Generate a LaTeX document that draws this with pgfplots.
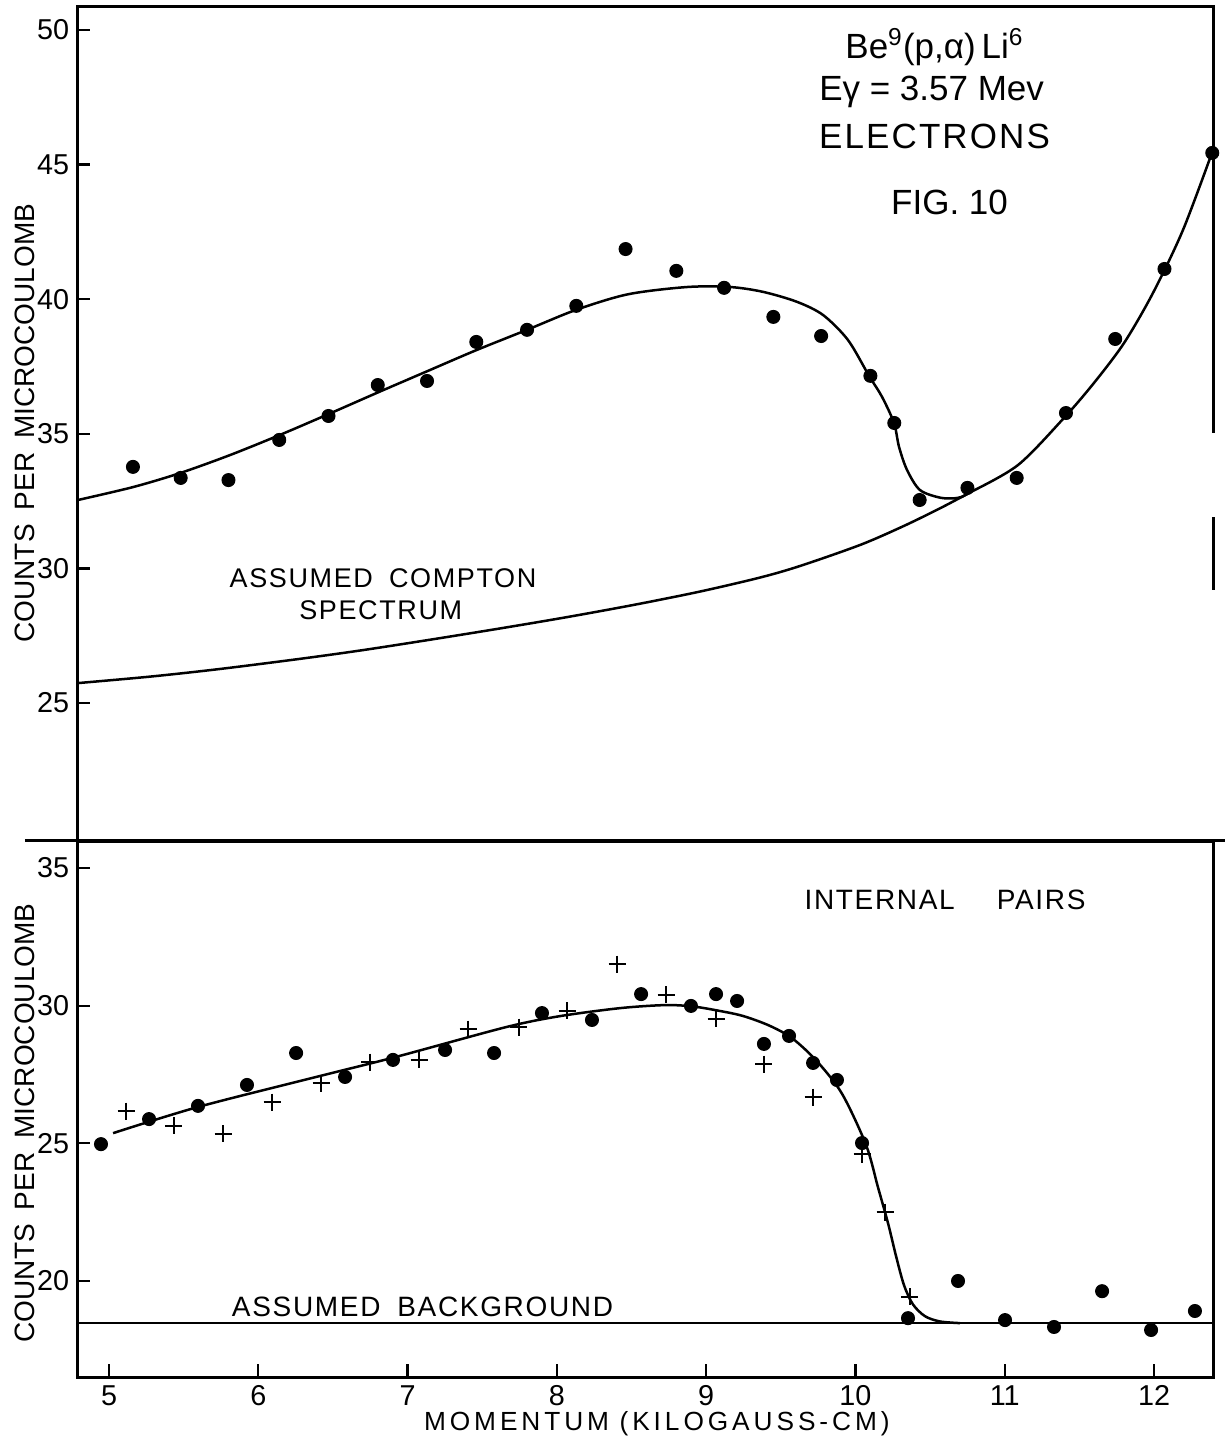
\documentclass[border=0pt]{standalone}
\usepackage{pgfplots}
\pgfplotsset{compat=1.18}
\usepackage{fontspec}
\setmainfont{Liberation Sans}
\newfontfamily\lettering[LetterSpace=6]{Liberation Sans}
\newfontfamily\widelettering[LetterSpace=15]{Liberation Sans}

\tikzset{
  ann/.style={font=\fontsize{11.2}{13}\lettering, inner sep=0pt},
  big/.style={font=\fontsize{14}{16}\selectfont, inner sep=0pt},
}

\begin{document}
\begin{tikzpicture}
% page: 1 px of the drawing = 0.4pt, origin at the lower left corner of the lower panel
\useasboundingbox (-31.2pt,-26pt) rectangle (458.8pt,550.8pt);
\pgfplotsset{
  panel/.style={
    scale only axis, width=454pt,
    xmin=4.792, xmax=12.395,
    tick align=inside, ytick pos=left,
    major tick length=5pt,
    every tick/.style={line width=0.9pt, black},
    axis line style={line width=1.2pt},
    tick label style={font=\fontsize{11.5}{13}\selectfont},
    /pgf/number format/assume math mode=true,
    clip=false,
  },
  dots/.style={only marks, mark=*, mark size=2.6pt, black},
  crosses/.style={only marks, mark=+, mark size=3.4pt, mark options={line width=0.9pt}, black},
  fit/.style={black, line width=1pt, smooth, tension=0.5, no marks},
}

% ---------------- lower panel: internal pairs ----------------
\begin{axis}[panel, at={(0,0)}, anchor=south west, height=214.4pt,
  ymin=16.513, ymax=35.98,
  xtick={5,...,12}, xtick pos=left,
  ytick={20,25,30,35},
  xlabel={\widelettering MOMENTUM\hspace{0.4em}(KILOGAUSS-CM)},
  xlabel style={at={(axis description cs:0.51,0)}, anchor=center, yshift=-18.8pt,
                font=\fontsize{10.5}{12}\selectfont},
  ylabel={COUNTS\hspace{0.5em}PER\hspace{0.5em}MICROCOULOMB},
  ylabel style={at={(axis description cs:-0.0467,0.474)}, anchor=center,
                font=\fontsize{11.2}{13}\selectfont},
]
% assumed background
\addplot[black, line width=1pt] coordinates {(4.792,18.47) (12.395,18.47)};
% fitted curve
\addplot[fit] coordinates {
 (5.027,25.37) (5.596,26.32) (6.387,27.41) (6.916,28.13) (7.659,29.22)
 (8.021,29.62) (8.423,29.91) (8.724,30.02) (8.912,29.97) (9.099,29.80)
 (9.250,29.62) (9.421,29.28) (9.575,28.82) (9.742,27.98) (9.910,26.80)
 (10.071,24.94) (10.151,23.40) (10.218,22.10) (10.272,20.90) (10.325,19.85)
 (10.385,19.15) (10.466,18.72) (10.566,18.53) (10.700,18.47)};
% first run (dots)
\addplot[dots] coordinates {
 (4.946,24.97) (5.268,25.88) (5.596,26.36) (5.924,27.12) (6.253,28.28)
 (6.581,27.41) (6.902,28.03) (7.251,28.39) (7.579,28.28) (7.900,29.73)
 (8.235,29.48) (8.564,30.42) (8.898,29.99) (9.066,30.42) (9.207,30.17)
 (9.387,28.61) (9.555,28.90) (9.716,27.92) (9.876,27.30) (10.044,25.01)
 (10.352,18.65) (10.687,20.00) (11.002,18.58) (11.330,18.33) (11.652,19.63)
 (11.980,18.22) (12.274,18.91)};
% second run (crosses)
\addplot[crosses] coordinates {
 (5.114,26.17) (5.435,25.63) (5.764,25.34) (6.092,26.50) (6.420,27.19)
 (6.748,27.95) (7.077,28.03) (7.405,29.15) (7.746,29.22) (8.068,29.81)
 (8.403,31.51) (8.731,30.39) (9.066,29.52) (9.387,27.88) (9.716,26.68)
 (10.044,24.61) (10.198,22.50) (10.365,19.42)};
\node[ann] at (axis cs:10.6,33.84) {INTERNAL\hspace{1.5em}PAIRS};
\node[ann] at (axis cs:7.10,19.05) {ASSUMED\hspace{0.6em}BACKGROUND};
\end{axis}

% ---------------- upper panel: electrons ----------------
\begin{axis}[panel, at={(0,214.4pt)}, anchor=south west, height=333.6pt,
  ymin=19.875, ymax=50.85,
  xtick=\empty,
  ytick={25,30,...,50},
  axis line style={draw=none},
  ylabel={COUNTS\hspace{0.5em}PER\hspace{0.5em}MICROCOULOMB},
  ylabel style={at={(axis description cs:-0.0467,0.501)}, anchor=center,
                font=\fontsize{11.2}{13}\selectfont},
]
% frame: left, top and the broken right edge
\draw[line width=1.2pt] (rel axis cs:0,0) -- (rel axis cs:0,1) -- (rel axis cs:1,1)
   -- (axis cs:12.395,35.03);
\draw[line width=1.2pt] (axis cs:12.395,31.9) -- (axis cs:12.395,29.2);
% assumed Compton spectrum
\addplot[fit] coordinates {
 (4.792,25.74) (5.275,25.98) (5.737,26.26) (6.279,26.64) (6.695,26.96)
 (7.150,27.35) (7.653,27.80) (8.088,28.21) (8.530,28.66) (8.959,29.14)
 (9.361,29.66) (9.629,30.09) (10.031,30.87) (10.318,31.56) (10.566,32.23)
 (10.761,32.80)};
% fitted curve
\addplot[fit] coordinates {
 (4.792,32.54) (5.161,33.02) (5.476,33.54) (5.811,34.21) (6.146,34.96)
 (6.474,35.74) (6.795,36.52) (7.130,37.32) (7.458,38.10) (7.800,38.86)
 (8.128,39.60) (8.476,40.18) (8.872,40.45) (9.160,40.45) (9.381,40.27)
 (9.608,39.90) (9.783,39.41) (9.950,38.48) (10.091,37.15) (10.178,36.37)
 (10.258,35.40) (10.292,34.51) (10.345,33.66) (10.432,32.91) (10.573,32.62)
 (10.687,32.62) (10.761,32.80) (11.089,33.84) (11.397,35.59) (11.598,36.89)
 (11.799,38.37) (11.993,40.23) (12.194,42.57) (12.395,45.54)};
\addplot[dots] coordinates {
 (5.16,33.77) (5.48,33.36) (5.80,33.28) (6.14,34.77) (6.47,35.66) (6.80,36.81)
 (7.13,36.96) (7.46,38.41) (7.80,38.86) (8.13,39.75) (8.46,41.86) (8.80,41.05)
 (9.12,40.42) (9.45,39.34) (9.77,38.63) (10.10,37.15) (10.26,35.40) (10.43,32.54)
 (10.75,32.99) (11.08,33.36) (11.41,35.77) (11.74,38.52) (12.07,41.12) (12.39,45.43)};
\node[big] at (axis cs:10.53,49.37) {Be\textsuperscript{9}(p,α)\,Li\textsuperscript{6}};
\node[big] at (axis cs:10.51,47.70) {Eγ = 3.57 Mev};
\node[big, font=\fontsize{14}{16}\lettering] at (axis cs:10.53,46.03) {ELECTRONS};
\node[big] at (axis cs:10.63,43.60) {FIG. 10};
\node[ann, font=\fontsize{10.8}{13}\lettering] at (axis cs:6.835,29.64) {ASSUMED\hspace{0.6em}COMPTON};
\node[ann, font=\fontsize{10.8}{13}\lettering] at (axis cs:6.82,28.45) {SPECTRUM};
\end{axis}

% dividing line between the panels
\draw[line width=1.2pt] (-21.2pt,214.4pt) -- (458.8pt,214.4pt);
\end{tikzpicture}
\end{document}
